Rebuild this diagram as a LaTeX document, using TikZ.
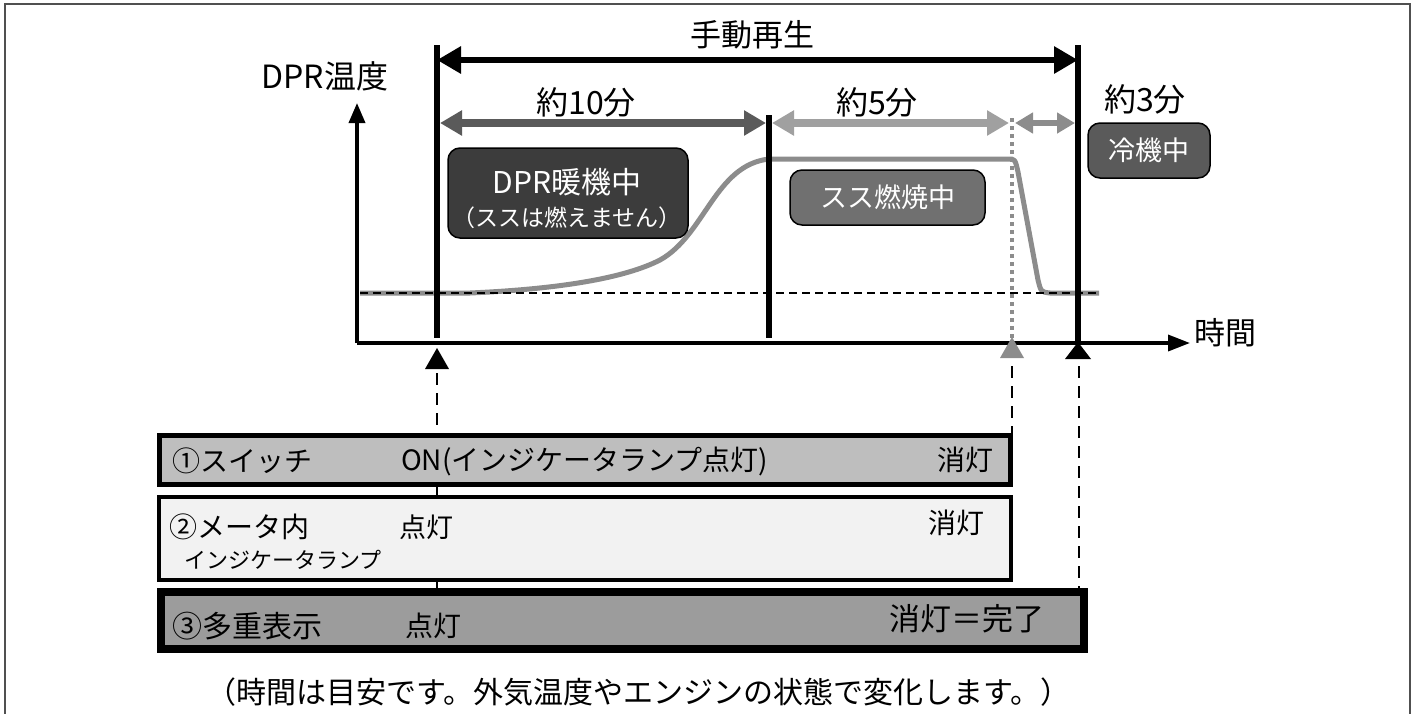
\documentclass[tikz,border=0pt]{standalone}
\usepackage{fontspec}
\setmainfont{Noto Sans CJK JP}
\usetikzlibrary{arrows.meta}
\definecolor{framec}{HTML}{505050}
\definecolor{darkbox}{HTML}{3C3C3C}
\definecolor{midbox}{HTML}{707070}
\definecolor{coolbox}{HTML}{5A5A5A}
\definecolor{arrA}{HTML}{5A5A5A}
\definecolor{arrB}{HTML}{A0A0A0}
\definecolor{arrC}{HTML}{8C8C8C}
\definecolor{curvec}{HTML}{8C8C8C}
\definecolor{barA}{HTML}{BEBEBE}
\definecolor{barB}{HTML}{F2F2F2}
\definecolor{barC}{HTML}{9C9C9C}
\newcommand{\fs}[1]{\fontsize{#1}{#1}\selectfont}
\tikzset{
  lbl/.style={inner sep=0pt, text=black},
  stbox/.style={draw=black, line width=1.5pt, rounded corners=12pt, inner sep=0pt, text=white},
  vline/.style={line width=5.5pt, black},
  dimarrow/.style={line width=8pt, {Triangle[length=22pt,width=24pt]}-{Triangle[length=22pt,width=24pt]}},
  bar/.style={draw=black, anchor=north west, inner sep=0pt, outer sep=0pt},
  vdash/.style={line width=2.5pt, dash pattern=on 12pt off 8pt},
}
\begin{document}
\begin{tikzpicture}[x=1pt,y=-1pt]
\useasboundingbox (0,0) rectangle (1416,713);
\begin{scope}
\clip (0,0) rectangle (1416,713);
\draw[framec, line width=2pt] (5,4) rectangle (1410,760);
\end{scope}

% key coordinates
\coordinate (o) at (357,343);
\coordinate (ytop) at (357,103);
\coordinate (xend) at (1190,343);
\coordinate (s0t) at (437,45);
\coordinate (s0b) at (437,338);
\coordinate (s1t) at (769,115);
\coordinate (s1b) at (769,338);
\coordinate (s2t) at (1012,118);
\coordinate (s2b) at (1012,338);
\coordinate (s3t) at (1078,45);
\coordinate (s3b) at (1078,343);

% bars
\draw[black, line width=2pt] (437,433) -- (437,590);
\node[bar, fill=barA, line width=5pt, minimum width=851pt, minimum height=49pt] (bar1) at (159.5,435.5) {};
\node[bar, fill=barB, line width=4pt, minimum width=852pt, minimum height=83pt] (bar2) at (159,497) {};
\node[bar, fill=barC, line width=8pt, minimum width=923pt, minimum height=57pt] (bar3) at (161,592) {};

% axes
\draw[line width=3.5pt, -{Triangle[length=20pt,width=16pt]}] (o) -- (ytop);
\draw[line width=3.5pt, -{Triangle[length=22pt,width=16pt]}] (o) -- (xend);
\node[lbl, font=\fs{32}] (ylab) at (325,76) {DPR温度};
\node[lbl, font=\fs{31}, anchor=west] (xlab) at (1194,333) {時間};

% curve
\draw[curvec, line width=5pt] (360,293) -- (470,293) .. controls (560,289) and (625,278) .. (660,260) .. controls (705,235) and (715,165) .. (769,159) -- (1008,159) .. controls (1015,159) .. (1018,172) -- (1038,280) .. controls (1041,292) .. (1050,293) -- (1099,293);
\draw[black, line width=1.5pt, dash pattern=on 8pt off 5pt] (360,293) -- (1099,293);

% vertical lines
\draw[vline] (s0t) -- (s0b);
\draw[vline] (s1t) -- (s1b);
\draw[vline] (s3t) -- (s3b);
\draw[arrC, line width=4pt, dash pattern=on 4pt off 4pt] (s2t) -- (s2b);

% dimension arrows
\coordinate (tA) at (437,60);
\coordinate (tB) at (1078,60);
\draw[black, line width=6pt, {Triangle[length=24pt,width=26pt]}-{Triangle[length=24pt,width=26pt]}] (tA) -- (tB);
\node[lbl, font=\fs{31}] (manual) at (752,35) {手動再生};

\coordinate (a1) at (440,123);
\coordinate (a2) at (766,123);
\coordinate (a3) at (772,123);
\coordinate (a4) at (1009,123);
\coordinate (a5) at (1015,123);
\coordinate (a6) at (1075,123);
\draw[arrA, dimarrow] (a1) -- (a2);
\draw[arrB, dimarrow] (a3) -- (a4);
\draw[arrC, line width=6pt, {Triangle[length=18pt,width=20pt]}-{Triangle[length=18pt,width=20pt]}] (a5) -- (a6);
\node[lbl, font=\fs{32}] (t10) at (586,102) {約10分};
\node[lbl, font=\fs{32}] (t5) at (877,102) {約5分};
\node[lbl, font=\fs{32}] (t3) at (1145,99) {約3分};

% state boxes
\node[stbox, fill=darkbox, minimum width=240pt, minimum height=90pt] (warm) at (568,193) {};
\node[lbl, text=white, font=\fs{30}] (warm1) at (567,182) {DPR暖機中};
\node[lbl, text=white, font=\fs{23}] (warm2) at (567,218) {（ススは燃えません）};
\node[stbox, fill=midbox, minimum width=195pt, minimum height=55pt, font=\fs{27}] (burn) at (887.5,197.5) {スス燃焼中};
\node[stbox, fill=coolbox, minimum width=122pt, minimum height=55pt, font=\fs{27}] (cool) at (1149,150.5) {冷機中};

% markers below the time axis
\fill[black] (437,348) -- (449,369) -- (425,369) -- cycle;
\fill[arrC] (1012,337) -- (1024,358) -- (1000,358) -- cycle;
\fill[black] (1078,342) -- (1091,359) -- (1065,359) -- cycle;
\coordinate (d0) at (437,373);
\coordinate (d2) at (1012,366);
\coordinate (d3) at (1079,366);
\draw[vdash] (d0) -- (d0 |- bar1.north);
\draw[vdash] (d2) -- (d2 |- bar1.north);
\draw[vdash] (d3) -- (d3 |- bar3.north);

% bar texts
\node[lbl, font=\fs{28}, anchor=west] (b1a) at (172,461) {①スイッチ};
\node[lbl, font=\fs{28}, anchor=west] (b1b) at (401,461) {ON(インジケータランプ点灯)};
\node[lbl, font=\fs{28}, anchor=east] (b1c) at (994,460) {消灯};
\node[lbl, font=\fs{28}, anchor=west] (b2a) at (169,527) {②メータ内};
\node[lbl, font=\fs{27}, anchor=west] (b2b) at (399,527) {点灯};
\node[lbl, font=\fs{28}, anchor=east] (b2c) at (985,523) {消灯};
\node[lbl, font=\fs{22}, anchor=west] (b2d) at (184,560) {インジケータランプ};
\node[lbl, font=\fs{30}, anchor=west] (b3a) at (172,626) {③多重表示};
\node[lbl, font=\fs{28}, anchor=west] (b3b) at (405,626) {点灯};
\node[lbl, font=\fs{31}, anchor=east] (b3c) at (1045,619) {消灯＝完了};

% footer
\node[lbl, font=\fs{30}] (note) at (638,692) {（時間は目安です。外気温度やエンジンの状態で変化します。）};
\end{tikzpicture}
\end{document}
